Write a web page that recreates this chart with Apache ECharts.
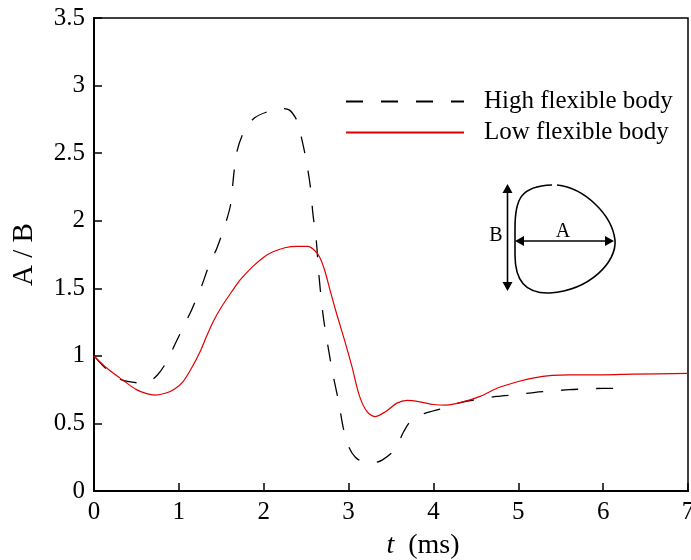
<!DOCTYPE html>
<html>
<head>
<meta charset="utf-8">
<script src="https://cdn.jsdelivr.net/npm/echarts@6/dist/echarts.min.js"></script>
<style>
html,body{margin:0;padding:0;background:#fff;}
#chart{width:691px;height:560px;}
</style>
</head>
<body>
<div id="chart"></div>
<script>
const seriesNames = ['High flexible body', 'Low flexible body'];
const xTicks = [0, 1, 2, 3, 4, 5, 6, 7];
const yTicks = [0, 0.5, 1, 1.5, 2, 2.5, 3, 3.5];

// High flexible body (dashed) : [t (ms), A/B]
const highFlex = [
  [0,1.0],[0.15,0.9],[0.3,0.83],[0.45,0.805],[0.55,0.80],[0.65,0.81],[0.75,0.86],
  [0.85,0.95],[0.95,1.08],[1.05,1.21],[1.15,1.34],[1.27,1.52],[1.35,1.66],[1.45,1.80],
  [1.55,1.98],[1.61,2.12],[1.645,2.33],[1.68,2.50],[1.76,2.65],[1.89,2.76],[2.06,2.81],
  [2.2,2.83],[2.3,2.82],[2.40,2.73],[2.45,2.60],[2.50,2.45],[2.55,2.25],[2.58,2.05],
  [2.62,1.85],[2.65,1.6],[2.70,1.30],[2.76,1.06],[2.82,0.85],[2.88,0.67],[2.94,0.46],
  [3.0,0.33],[3.08,0.25],[3.2,0.21],[3.3,0.21],[3.4,0.23],[3.55,0.31],[3.65,0.44],
  [3.75,0.53],[3.9,0.575],[4.1,0.61],[4.35,0.66],[4.55,0.68],[4.75,0.70],[5.0,0.715],
  [5.2,0.73],[5.4,0.74],[5.6,0.75],[5.8,0.755],[6.0,0.76],[6.2,0.76]
];

// Low flexible body (red solid)
const lowFlex = [
  [0,1.0],[0.15,0.91],[0.34,0.82],[0.5,0.75],[0.62,0.72],[0.72,0.71],[0.85,0.725],
  [0.95,0.755],[1.05,0.81],[1.15,0.91],[1.25,1.03],[1.33,1.15],[1.41,1.26],[1.50,1.36],
  [1.64,1.49],[1.72,1.56],[1.87,1.66],[2.0,1.73],[2.11,1.77],[2.25,1.80],[2.39,1.81],
  [2.52,1.81],[2.60,1.78],[2.66,1.73],[2.72,1.63],[2.78,1.49],[2.86,1.31],[2.96,1.10],
  [3.04,0.92],[3.13,0.70],[3.22,0.585],[3.31,0.55],[3.43,0.585],[3.57,0.65],[3.69,0.67],
  [3.84,0.66],[4.0,0.64],[4.15,0.635],[4.35,0.66],[4.55,0.70],[4.75,0.76],[5.0,0.81],
  [5.17,0.835],[5.4,0.855],[5.6,0.86],[6.0,0.86],[6.35,0.865],[7.0,0.87]
];

const FONT = '"Liberation Serif", "Times New Roman", serif';
const chart = echarts.init(document.getElementById('chart'), null, {renderer: 'canvas'});

function arrowHead(tipX, tipY, dir) {
  const L = 9, W = 5;
  let pts;
  if (dir === 'up') pts = [[tipX, tipY], [tipX - W, tipY + L], [tipX + W, tipY + L]];
  else if (dir === 'down') pts = [[tipX, tipY], [tipX - W, tipY - L], [tipX + W, tipY - L]];
  else if (dir === 'left') pts = [[tipX, tipY], [tipX + L, tipY - W], [tipX + L, tipY + W]];
  else pts = [[tipX, tipY], [tipX - L, tipY - W], [tipX - L, tipY + W]];
  return {type: 'polygon', shape: {points: pts}, style: {fill: '#000'}, z: 10};
}
function bez(x1, y1, c1x, c1y, c2x, c2y, x2, y2) {
  return {type: 'bezierCurve', shape: {x1: x1, y1: y1, cpx1: c1x, cpy1: c1y, cpx2: c2x, cpy2: c2y, x2: x2, y2: y2},
    style: {fill: null, stroke: '#000', lineWidth: 1.6}, z: 10};
}

chart.setOption({
  animation: false,
  backgroundColor: '#fff',
  grid: {left: 94, right: 3, top: 18, bottom: 69, show: true, borderColor: '#000', borderWidth: 1.5,
    outerBoundsMode: 'none', containLabel: false},
  legend: {
    orient: 'vertical',
    left: 340, top: 84,
    itemWidth: 118, itemHeight: 14, itemGap: 6,
    data: seriesNames,
    itemStyle: {opacity: 0},
    textStyle: {fontFamily: FONT, fontSize: 25, color: '#000', lineHeight: 25, padding: [0, 0, 0, 15]}
  },
  xAxis: {
    type: 'value', min: 0, max: 7, interval: 1,
    name: '{i|t}  (ms)', nameLocation: 'middle', nameGap: 41,
    nameTextStyle: {fontFamily: FONT, fontSize: 28, color: '#000', padding: [0, 0, 0, 64],
      rich: {i: {fontFamily: FONT, fontSize: 28, fontStyle: 'italic', color: '#000'}}},
    axisLine: {lineStyle: {color: '#000', width: 2}},
    axisTick: {inside: true, length: 8, lineStyle: {color: '#000', width: 1.5}},
    axisLabel: {fontFamily: FONT, fontSize: 25, color: '#000', margin: 9,
      formatter: v => xTicks.includes(v) ? String(v) : ''},
    splitLine: {show: false}
  },
  yAxis: {
    type: 'value', min: 0, max: 3.5, interval: 0.5,
    name: 'A / B', nameLocation: 'middle', nameGap: 55, nameRotate: 90,
    nameTextStyle: {fontFamily: FONT, fontSize: 29, color: '#000'},
    axisLine: {lineStyle: {color: '#000', width: 2}},
    axisTick: {inside: true, length: 8, lineStyle: {color: '#000', width: 1.5}},
    axisLabel: {fontFamily: FONT, fontSize: 25, color: '#000', margin: 9,
      formatter: v => yTicks.includes(v) ? String(v) : ''},
    splitLine: {show: false}
  },
  series: [
    {
      name: seriesNames[0], type: 'line', data: highFlex, smooth: 0.3,
      symbol: 'none', lineStyle: {color: '#000', width: 1.3, type: [17, 18]},
      itemStyle: {color: '#000'}
    },
    {
      name: seriesNames[1], type: 'line', data: lowFlex, smooth: 0.3,
      symbol: 'none', lineStyle: {color: '#e00000', width: 1.2},
      itemStyle: {color: '#e00000'}
    }
  ],
  graphic: [
    bez(557, 185, 585, 188, 612, 215, 615, 240),
    bez(615, 240, 617, 262, 590, 290, 550, 293),
    bez(550, 293, 525, 294, 515, 280, 515, 255),
    {type: 'line', shape: {x1: 515, y1: 255, x2: 515, y2: 228}, style: {stroke: '#000', lineWidth: 1.6}, z: 10},
    bez(515, 228, 515, 200, 520, 186, 552, 185),
    {type: 'line', shape: {x1: 507.5, y1: 192, x2: 507.5, y2: 283}, style: {stroke: '#000', lineWidth: 1.6}, z: 10},
    arrowHead(507.5, 184, 'up'),
    arrowHead(507.5, 291, 'down'),
    {type: 'line', shape: {x1: 523, y1: 241, x2: 606, y2: 241}, style: {stroke: '#000', lineWidth: 1.6}, z: 10},
    arrowHead(515, 241, 'left'),
    arrowHead(614, 241, 'right'),
    {type: 'text', x: 563, y: 232, style: {text: 'A', fontFamily: FONT, fontSize: 20, fill: '#000', align: 'center', verticalAlign: 'middle'}, z: 10},
    {type: 'text', x: 496, y: 236, style: {text: 'B', fontFamily: FONT, fontSize: 20, fill: '#000', align: 'center', verticalAlign: 'middle'}, z: 10}
  ]
});
</script>
</body>
</html>
